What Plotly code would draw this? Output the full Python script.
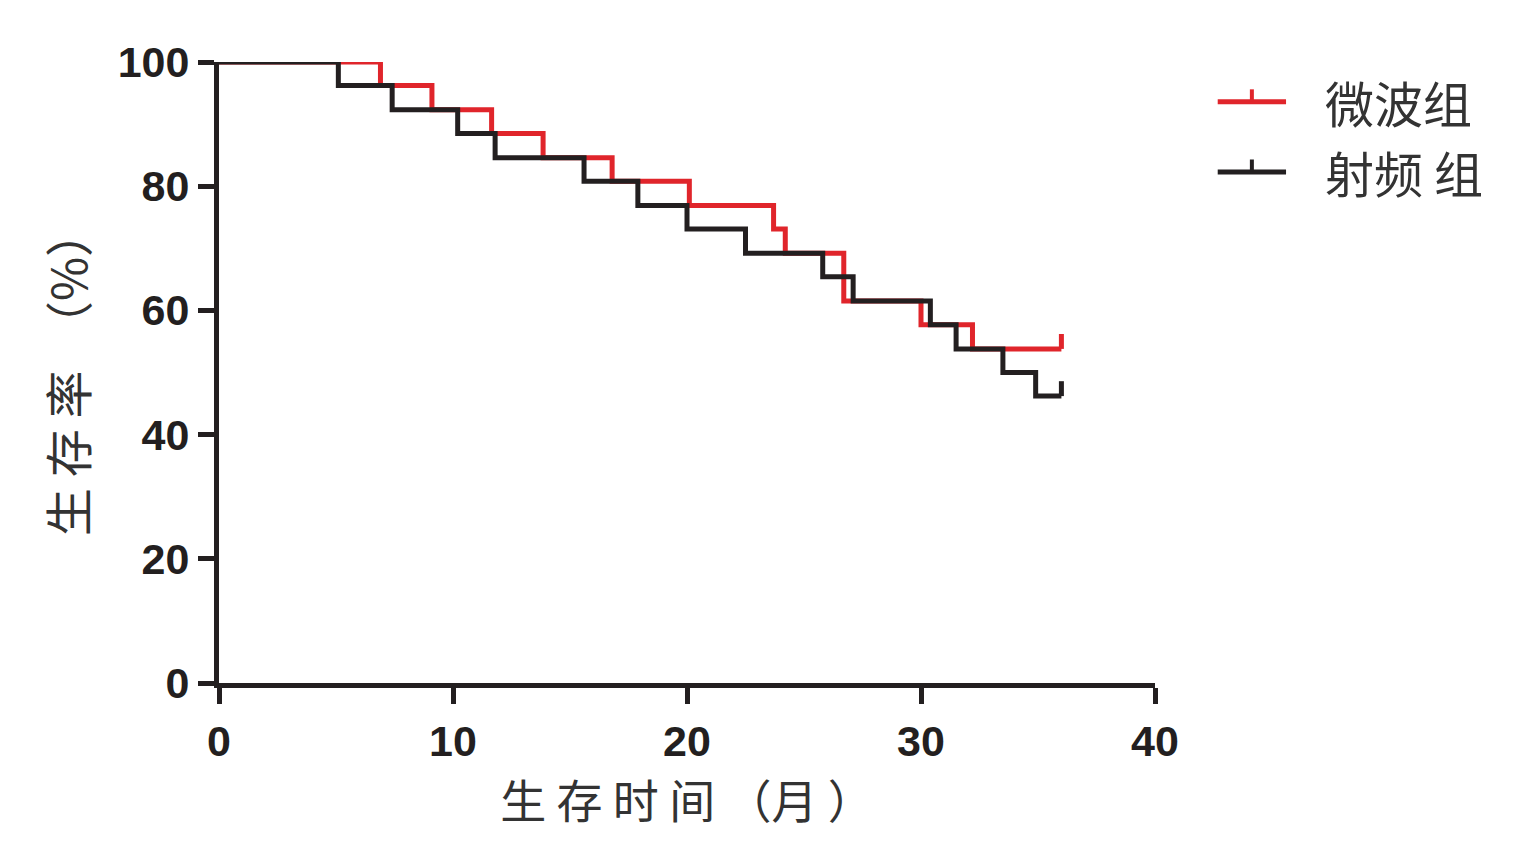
import plotly.graph_objects as go

# survival time (months) at each step, survival rate (%) after the step
mw_time = [0, 6.9, 9.1, 11.65, 13.85, 16.8, 20.1, 23.7, 24.2, 26.7, 30.0, 32.2, 36.0]
mw_surv = [100, 96.2, 92.3, 88.5, 84.6, 80.8, 76.9, 73.1, 69.2, 61.5, 57.7, 53.8, 53.8]

rf_time = [0, 5.1, 7.4, 10.2, 11.8, 15.6, 17.9, 20.0, 22.5, 25.8, 27.1, 30.4, 31.5, 33.5, 34.9, 36.0]
rf_surv = [100, 96.2, 92.3, 88.5, 84.6, 80.8, 76.9, 73.1, 69.2, 65.4, 61.5, 57.7, 53.8, 50.0, 46.2, 46.2]

# censored observations
mw_cens_t = [36.0]
mw_cens_s = [53.8]
rf_cens_t = [36.0]
rf_cens_s = [46.2]

group_names = ["微波组", "射频 组"]
x_ticks = [0, 10, 20, 30, 40]
y_ticks = [0, 20, 40, 60, 80, 100]

RED = "#e0252b"
BLACK = "#231f20"
LW = 5
TICK_H = 2.4  # censor tick height in %

def censor_xy(ts, ss):
    xs, ys = [], []
    for t, s in zip(ts, ss):
        xs += [t, t, None]
        ys += [s, s + TICK_H, None]
    return xs, ys

fig = go.Figure()

# red first so black sits on top where they overlap
fig.add_trace(go.Scatter(x=mw_time, y=mw_surv, mode="lines", line_shape="hv",
                         line=dict(color=RED, width=LW), name=group_names[0]))
cx, cy = censor_xy(mw_cens_t, mw_cens_s)
fig.add_trace(go.Scatter(x=cx, y=cy, mode="lines", line=dict(color=RED, width=LW)))

fig.add_trace(go.Scatter(x=rf_time, y=rf_surv, mode="lines", line_shape="hv",
                         line=dict(color=BLACK, width=LW), name=group_names[1]))
cx, cy = censor_xy(rf_cens_t, rf_cens_s)
fig.add_trace(go.Scatter(x=cx, y=cy, mode="lines", line=dict(color=BLACK, width=LW)))

axis_common = dict(
    showgrid=False, zeroline=False, showline=True, linecolor=BLACK, linewidth=5,
    ticks="outside", ticklen=16, tickwidth=5, tickcolor=BLACK,
    tickfont=dict(family="Liberation Sans", size=43, color=BLACK, weight="bold"),
)

fig.update_xaxes(range=[0, 40], tickvals=x_ticks, **axis_common,
                 title=dict(text="生 存 时 间 （月 ）", standoff=16,
                            font=dict(family="Noto Sans CJK SC", size=46, color="#333")))
fig.update_yaxes(range=[0, 100], tickvals=y_ticks, **axis_common,
                 title=dict(text="生 存 率  （%）", standoff=16,
                            font=dict(family="Noto Sans CJK SC", size=48, color="#333")))

# hand-made legend, placed to the right of the plot
legend_rows = [(group_names[0], RED, 0.936), (group_names[1], BLACK, 0.823)]
for name, col, yp in legend_rows:
    fig.add_shape(type="line", xref="paper", yref="paper", x0=1.067, x1=1.14, y0=yp, y1=yp,
                  line=dict(color=col, width=LW))
    fig.add_shape(type="line", xref="paper", yref="paper", x0=1.1035, x1=1.1035, y0=yp, y1=yp + 0.02,
                  line=dict(color=col, width=4))
    fig.add_annotation(text=name, xref="paper", yref="paper", x=1.18, y=yp, xanchor="left",
                       yanchor="middle", showarrow=False,
                       font=dict(family="Noto Sans CJK SC", size=49, color="#333"))

# the page adds an 8px body margin, so pull the plot up/left by that much
fig.update_layout(
    width=1523, height=857,
    margin=dict(l=211, r=376, t=54, b=182),
    plot_bgcolor="white", paper_bgcolor="white",
    showlegend=False,
)

fig.write_html("out.html")
